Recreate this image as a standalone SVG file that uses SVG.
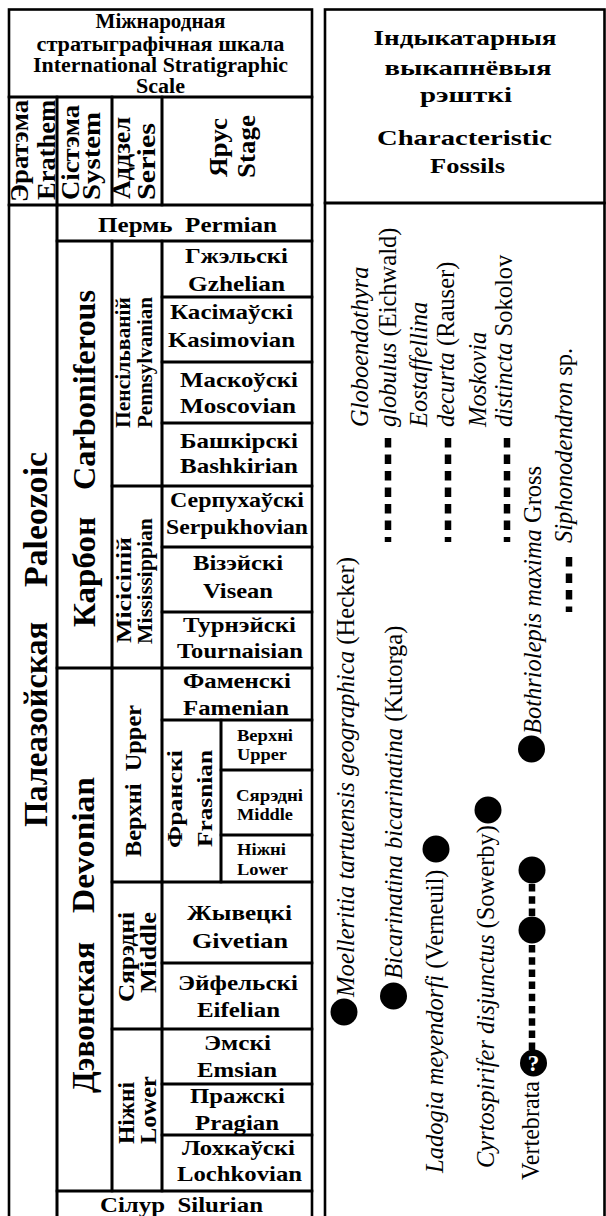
<svg xmlns="http://www.w3.org/2000/svg" width="606" height="1216" viewBox="0 0 606 1216">
<style>
.c{fill:none;stroke:#000;stroke-width:2.6}
.b{font-family:"Liberation Serif","Times New Roman",serif;font-weight:bold;fill:#000}
.m{text-anchor:middle}
.s17{font-size:17px}
.s20{font-size:20px}
.s21{font-size:21px}
.s22{font-size:22px}
.s24{font-size:24px}
.s26{font-size:26px}
.s32{font-size:32px}
.s34{font-size:34px}
.f{font-family:"Liberation Serif","Times New Roman",serif;font-style:italic;font-size:24.5px;fill:#000}
.r{font-style:normal}
.dot{fill:#000}
.q{font-family:"Liberation Serif","Times New Roman",serif;font-weight:bold;font-size:23px;fill:#fff;text-anchor:middle}
.d{fill:none;stroke:#000;stroke-width:6.5;stroke-dasharray:9.5 7}
.dv{fill:none;stroke:#000;stroke-width:6.5;stroke-dasharray:7.5 4.7}
</style>
<rect x="0" y="0" width="606" height="1216" fill="#fff"/>

<!-- ===== Left table: International Stratigraphic Scale ===== -->
<g id="scale-title">
<rect class="c" x="9" y="9.5" width="303" height="87.5"/>
<text class="b s20 m" x="160.5" y="28" textLength="130" lengthAdjust="spacingAndGlyphs">Міжнародная</text>
<text class="b s20 m" x="160.5" y="51" textLength="248" lengthAdjust="spacingAndGlyphs">стратыграфічная шкала</text>
<text class="b s20 m" x="160.5" y="72" textLength="255" lengthAdjust="spacingAndGlyphs">International Stratigraphic</text>
<text class="b s20 m" x="160.5" y="93" textLength="49" lengthAdjust="spacingAndGlyphs">Scale</text>
</g>
<g id="hdr-erathem">
<rect class="c" x="9" y="97" width="48" height="108"/>
<text class="b s26" transform="rotate(-90)" x="-202" y="28" textLength="102" lengthAdjust="spacingAndGlyphs">Эратэма</text>
<text class="b s26" transform="rotate(-90)" x="-200" y="55" textLength="100" lengthAdjust="spacingAndGlyphs">Erathem</text>
</g>
<g id="hdr-system">
<rect class="c" x="57" y="97" width="55" height="108"/>
<text class="b s26" transform="rotate(-90)" x="-200" y="79" textLength="95" lengthAdjust="spacingAndGlyphs">Сістэма</text>
<text class="b s26" transform="rotate(-90)" x="-200" y="100" textLength="88" lengthAdjust="spacingAndGlyphs">System</text>
</g>
<g id="hdr-series">
<rect class="c" x="112" y="97" width="50" height="108"/>
<text class="b s26" transform="rotate(-90)" x="-199" y="130" textLength="82" lengthAdjust="spacingAndGlyphs">Аддзел</text>
<text class="b s26" transform="rotate(-90)" x="-200" y="155" textLength="77" lengthAdjust="spacingAndGlyphs">Series</text>
</g>
<g id="hdr-stage">
<rect class="c" x="162" y="97" width="150" height="108"/>
<text class="b s26 m" transform="rotate(-90)" x="-147.5" y="227" textLength="59" lengthAdjust="spacingAndGlyphs">Ярус</text>
<text class="b s26 m" transform="rotate(-90)" x="-146.5" y="255" textLength="63" lengthAdjust="spacingAndGlyphs">Stage</text>
</g>

<g id="paleozoic">
<rect class="c" x="9" y="205" width="48" height="1030"/>
<text class="b s34" transform="rotate(-90)" y="47"><tspan x="-827" textLength="205" lengthAdjust="spacingAndGlyphs">Палеазойская</tspan> <tspan x="-587" textLength="135" lengthAdjust="spacingAndGlyphs">Paleozoic</tspan></text>
</g>
<g id="permian">
<rect class="c" x="57" y="205" width="255" height="36"/>
<text class="b s22 m" x="187.5" y="232" xml:space="preserve" textLength="179" lengthAdjust="spacingAndGlyphs">Пермь  Permian</text>
</g>
<g id="carboniferous">
<rect class="c" x="57" y="241" width="55" height="427"/>
<text class="b s32" transform="rotate(-90)" y="95"><tspan x="-627" textLength="110" lengthAdjust="spacingAndGlyphs">Карбон</tspan> <tspan x="-490" textLength="200" lengthAdjust="spacingAndGlyphs">Carboniferous</tspan></text>
</g>
<g id="devonian">
<rect class="c" x="57" y="668" width="55" height="523"/>
<text class="b s32" transform="rotate(-90)" y="94"><tspan x="-1093" textLength="151" lengthAdjust="spacingAndGlyphs">Дэвонская</tspan> <tspan x="-913" textLength="136" lengthAdjust="spacingAndGlyphs">Devonian</tspan></text>
</g>
<g id="silurian">
<rect class="c" x="57" y="1191" width="255" height="40"/>
<text class="b s22 m" x="181.5" y="1212" xml:space="preserve" textLength="163" lengthAdjust="spacingAndGlyphs">Сілур  Silurian</text>
</g>

<g id="pennsylvanian">
<rect class="c" x="112" y="241" width="50" height="245"/>
<text class="b s21 m" transform="rotate(-90)" x="-362.5" y="130" textLength="131" lengthAdjust="spacingAndGlyphs">Пенсільваній</text>
<text class="b s21 m" transform="rotate(-90)" x="-362.5" y="152" textLength="131" lengthAdjust="spacingAndGlyphs">Pennsylvanian</text>
</g>
<g id="mississippian">
<rect class="c" x="112" y="486" width="50" height="182"/>
<text class="b s21" transform="rotate(-90)" x="-643" y="131" textLength="106" lengthAdjust="spacingAndGlyphs">Місісіпій</text>
<text class="b s21" transform="rotate(-90)" x="-644" y="152" textLength="126" lengthAdjust="spacingAndGlyphs">Mississippian</text>
</g>
<g id="upper-devonian">
<rect class="c" x="112" y="668" width="50" height="214"/>
<text class="b s24 m" transform="rotate(-90)" x="-781" y="141" xml:space="preserve" textLength="152" lengthAdjust="spacingAndGlyphs">Верхні  Upper</text>
</g>
<g id="middle-devonian">
<rect class="c" x="112" y="882" width="50" height="147"/>
<text class="b s24" transform="rotate(-90)" x="-1002" y="134" textLength="90" lengthAdjust="spacingAndGlyphs">Сярэдні</text>
<text class="b s24" transform="rotate(-90)" x="-993" y="156" textLength="81" lengthAdjust="spacingAndGlyphs">Middle</text>
</g>
<g id="lower-devonian">
<rect class="c" x="112" y="1029" width="50" height="162"/>
<text class="b s24" transform="rotate(-90)" x="-1144" y="134" textLength="62" lengthAdjust="spacingAndGlyphs">Ніжні</text>
<text class="b s24" transform="rotate(-90)" x="-1144" y="156" textLength="68" lengthAdjust="spacingAndGlyphs">Lower</text>
</g>

<g id="gzhelian">
<rect class="c" x="162" y="241" width="150" height="56"/>
<text class="b s22 m" x="236.5" y="263" textLength="103" lengthAdjust="spacingAndGlyphs">Гжэльскі</text>
<text class="b s22 m" x="236.5" y="291" textLength="97" lengthAdjust="spacingAndGlyphs">Gzhelian</text>
</g>
<g id="kasimovian">
<rect class="c" x="162" y="297" width="150" height="65"/>
<text class="b s22 m" x="231.5" y="319" textLength="123" lengthAdjust="spacingAndGlyphs">Касімаўскі</text>
<text class="b s22 m" x="231.5" y="347" textLength="127" lengthAdjust="spacingAndGlyphs">Kasimovian</text>
</g>
<g id="moscovian">
<rect class="c" x="162" y="362" width="150" height="61"/>
<text class="b s22 m" x="239" y="387" textLength="118" lengthAdjust="spacingAndGlyphs">Маскоўскі</text>
<text class="b s22 m" x="238" y="413" textLength="116" lengthAdjust="spacingAndGlyphs">Moscovian</text>
</g>
<g id="bashkirian">
<rect class="c" x="162" y="423" width="150" height="63"/>
<text class="b s22 m" x="239" y="448" textLength="118" lengthAdjust="spacingAndGlyphs">Башкірскі</text>
<text class="b s22 m" x="239" y="473" textLength="118" lengthAdjust="spacingAndGlyphs">Bashkirian</text>
</g>
<g id="serpukhovian">
<rect class="c" x="162" y="486" width="150" height="61"/>
<text class="b s22 m" x="237" y="507" textLength="134" lengthAdjust="spacingAndGlyphs">Серпухаўскі</text>
<text class="b s22 m" x="237" y="534" textLength="142" lengthAdjust="spacingAndGlyphs">Serpukhovian</text>
</g>
<g id="visean">
<rect class="c" x="162" y="547" width="150" height="65"/>
<text class="b s22 m" x="238" y="570" textLength="90" lengthAdjust="spacingAndGlyphs">Візэйскі</text>
<text class="b s22 m" x="238" y="598" textLength="70" lengthAdjust="spacingAndGlyphs">Visean</text>
</g>
<g id="tournaisian">
<rect class="c" x="162" y="612" width="150" height="56"/>
<text class="b s22 m" x="239.5" y="632" textLength="113" lengthAdjust="spacingAndGlyphs">Турнэйскі</text>
<text class="b s22 m" x="240" y="658" textLength="126" lengthAdjust="spacingAndGlyphs">Tournaisian</text>
</g>
<g id="famenian">
<rect class="c" x="162" y="668" width="150" height="52"/>
<text class="b s22 m" x="237" y="688" textLength="108" lengthAdjust="spacingAndGlyphs">Фаменскі</text>
<text class="b s22 m" x="236" y="715" textLength="106" lengthAdjust="spacingAndGlyphs">Famenian</text>
</g>
<g id="frasnian">
<rect class="c" x="162" y="720" width="59" height="162"/>
<text class="b s22" transform="rotate(-90)" x="-848" y="182" textLength="98" lengthAdjust="spacingAndGlyphs">Франскі</text>
<text class="b s22" transform="rotate(-90)" x="-847" y="212" textLength="97" lengthAdjust="spacingAndGlyphs">Frasnian</text>
</g>
<g id="frasnian-upper">
<rect class="c" x="221" y="720" width="91" height="50"/>
<text class="b s17 m" x="265" y="741" textLength="56" lengthAdjust="spacingAndGlyphs">Верхні</text>
<text class="b s17 m" x="262" y="760" textLength="50" lengthAdjust="spacingAndGlyphs">Upper</text>
</g>
<g id="frasnian-middle">
<rect class="c" x="221" y="770" width="91" height="65"/>
<text class="b s17 m" x="269.5" y="801" textLength="67" lengthAdjust="spacingAndGlyphs">Сярэдні</text>
<text class="b s17 m" x="265" y="820" textLength="56" lengthAdjust="spacingAndGlyphs">Middle</text>
</g>
<g id="frasnian-lower">
<rect class="c" x="221" y="835" width="91" height="47"/>
<text class="b s17 m" x="261.5" y="855" textLength="49" lengthAdjust="spacingAndGlyphs">Ніжні</text>
<text class="b s17 m" x="262.5" y="875" textLength="51" lengthAdjust="spacingAndGlyphs">Lower</text>
</g>
<g id="givetian">
<rect class="c" x="162" y="882" width="150" height="81"/>
<text class="b s22 m" x="239.5" y="920" textLength="105" lengthAdjust="spacingAndGlyphs">Жывецкі</text>
<text class="b s22 m" x="240" y="948" textLength="96" lengthAdjust="spacingAndGlyphs">Givetian</text>
</g>
<g id="eifelian">
<rect class="c" x="162" y="963" width="150" height="66"/>
<text class="b s22 m" x="238" y="990" textLength="120" lengthAdjust="spacingAndGlyphs">Эйфельскі</text>
<text class="b s22 m" x="238.5" y="1017" textLength="83" lengthAdjust="spacingAndGlyphs">Eifelian</text>
</g>
<g id="emsian">
<rect class="c" x="162" y="1029" width="150" height="55"/>
<text class="b s22 m" x="237.5" y="1050" textLength="67" lengthAdjust="spacingAndGlyphs">Эмскі</text>
<text class="b s22 m" x="237" y="1077" textLength="80" lengthAdjust="spacingAndGlyphs">Emsian</text>
</g>
<g id="pragian">
<rect class="c" x="162" y="1084" width="150" height="51"/>
<text class="b s22 m" x="237.5" y="1103" textLength="95" lengthAdjust="spacingAndGlyphs">Пражскі</text>
<text class="b s22 m" x="237" y="1130" textLength="84" lengthAdjust="spacingAndGlyphs">Pragian</text>
</g>
<g id="lochkovian">
<rect class="c" x="162" y="1135" width="150" height="56"/>
<text class="b s22 m" x="238.5" y="1155" textLength="113" lengthAdjust="spacingAndGlyphs">Лохкаўскі</text>
<text class="b s22 m" x="239.5" y="1181" textLength="125" lengthAdjust="spacingAndGlyphs">Lochkovian</text>
</g>

<!-- ===== Right panel: Characteristic fossils ===== -->
<g id="fossils-title">
<rect class="c" x="325" y="9.5" width="279.5" height="193.5"/>
<text class="b s22 m" x="465" y="45" textLength="183" lengthAdjust="spacingAndGlyphs">Індыкатарныя</text>
<text class="b s22 m" x="468" y="75" textLength="167" lengthAdjust="spacingAndGlyphs">выкапнёвыя</text>
<text class="b s22 m" x="466" y="102" textLength="92" lengthAdjust="spacingAndGlyphs">рэшткі</text>
<text class="b s22 m" x="464.5" y="145" textLength="175" lengthAdjust="spacingAndGlyphs">Characteristic</text>
<text class="b s22 m" x="467.5" y="173" textLength="75" lengthAdjust="spacingAndGlyphs">Fossils</text>
</g>
<g id="fossils-body">
<rect class="c" x="325" y="203" width="279.5" height="1030"/>
</g>

<!-- range bars -->
<g id="connectors">
<line class="d" x1="388" y1="438" x2="388" y2="542"/>
<line class="d" x1="448" y1="438" x2="448" y2="542"/>
<line class="d" x1="507" y1="438" x2="507" y2="542"/>
<line class="d" x1="569" y1="557" x2="569" y2="612"/>
<line class="dv" x1="532" y1="884" x2="532" y2="1050"/>
</g>

<g id="globoendothyra">
<text class="f" transform="rotate(-90)" x="-427" y="368">Globoendothyra</text>
<text class="f" transform="rotate(-90)" x="-427" y="396">globulus <tspan class="r">(Eichwald)</tspan></text>
</g>
<g id="eostaffellina">
<text class="f" transform="rotate(-90)" x="-427" y="427">Eostaffellina</text>
<text class="f" transform="rotate(-90)" x="-427" y="454">decurta <tspan class="r">(Rauser)</tspan></text>
</g>
<g id="moskovia">
<text class="f" transform="rotate(-90)" x="-427" y="486">Moskovia</text>
<text class="f" transform="rotate(-90)" x="-427" y="512">distincta <tspan class="r">Sokolov</tspan></text>
</g>
<g id="siphonodendron">
<text class="f" transform="rotate(-90)" x="-543" y="572">Siphonodendron <tspan class="r">sp.</tspan></text>
</g>
<g id="bothriolepis">
<circle class="dot" cx="531.5" cy="749" r="13.5"/>
<text class="f" transform="rotate(-90)" x="-734" y="541">Bothriolepis maxima <tspan class="r">Gross</tspan></text>
</g>
<g id="moelleritia">
<circle class="dot" cx="344" cy="1012" r="13.5"/>
<text class="f" transform="rotate(-90)" x="-997" y="354" textLength="440" lengthAdjust="spacingAndGlyphs">Moelleritia tartuensis geographica <tspan class="r">(Hecker)</tspan></text>
</g>
<g id="bicarinatina">
<circle class="dot" cx="393.5" cy="996" r="13.5"/>
<text class="f" transform="rotate(-90)" x="-979" y="402">Bicarinatina bicarinatina <tspan class="r">(Kutorga)</tspan></text>
</g>
<g id="ladogia">
<circle class="dot" cx="436" cy="849" r="13.5"/>
<text class="f" transform="rotate(-90)" x="-1173" y="443">Ladogia meyendorfi <tspan class="r">(Verneuil)</tspan></text>
</g>
<g id="cyrtospirifer">
<circle class="dot" cx="488" cy="810" r="13.5"/>
<text class="f" transform="rotate(-90)" x="-1168" y="494">Cyrtospirifer disjunctus <tspan class="r">(Sowerby)</tspan></text>
</g>
<g id="vertebrata">
<circle class="dot" cx="532" cy="870" r="13.5"/>
<circle class="dot" cx="532" cy="930" r="13.5"/>
<circle class="dot" cx="533.5" cy="1063" r="13.5"/>
<text class="q" x="533.5" y="1071">?</text>
<text class="f r" transform="rotate(-90)" x="-1180" y="539" textLength="99" lengthAdjust="spacingAndGlyphs">Vertebrata</text>
</g>
</svg>
